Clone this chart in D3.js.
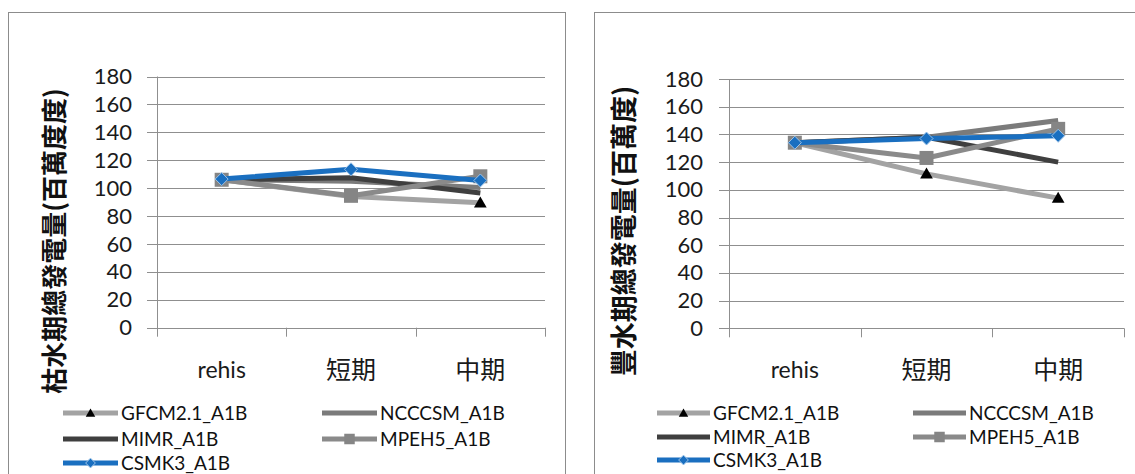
<!DOCTYPE html>
<html>
<head>
<meta charset="utf-8">
<script src="https://cdn.jsdelivr.net/npm/d3@7"></script>
<style>
  html, body { margin: 0; padding: 0; background: #fff; }
  svg { display: block; }
</style>
</head>
<body>
<svg id="chart" width="1135" height="474"></svg>
<script>
// Periods on the x axis
const periods = ["rehis", "短期", "中期"];
// Y axis ticks
const yTicks = [0, 20, 40, 60, 80, 100, 120, 140, 160, 180];
// Model scenario names (legend order)
const models = ["GFCM2.1_A1B", "NCCCSM_A1B", "MIMR_A1B", "MPEH5_A1B", "CSMK3_A1B"];

// Dry-season total generation (百萬度)
const dryGFCM = [106, 94, 89.5];
const dryNCCCSM = [106, 105, 100.5];
const dryMIMR = [106, 107.5, 96.5];
const dryMPEH5 = [106, 94.5, 108.5];
const dryCSMK3 = [106.5, 113.5, 105.5];

// Wet-season total generation (百萬度)
const wetGFCM = [134, 111.5, 94];
const wetNCCCSM = [134, 138, 150];
const wetMIMR = [134, 138, 120];
const wetMPEH5 = [134, 123, 144];
const wetCSMK3 = [134, 137, 139];

const styles = {
  "GFCM2.1_A1B": { color: "#a3a3a3", marker: "triangle" },
  "NCCCSM_A1B": { color: "#7b7b7b", marker: null },
  "MIMR_A1B":   { color: "#3f3f3f", marker: null },
  "MPEH5_A1B":  { color: "#8a8a8a", marker: "square" },
  "CSMK3_A1B":  { color: "#1a6fc0", marker: "diamond" }
};

const svg = d3.select("#chart");
const tickFont = "Lato, 'Open Sans', 'DejaVu Sans', sans-serif";
const cjkFont = "'Noto Sans CJK TC', 'Noto Sans CJK SC', sans-serif";

function drawMarker(g, type, cx, cy, scale, color) {
  const s = scale;
  if (type === "triangle") {
    g.append("path")
      .attr("d", d3.symbol(d3.symbolTriangle, 70 * s * s)())
      .attr("transform", `translate(${cx},${cy + 1})`)
      .attr("fill", "#000");
  } else if (type === "square") {
    g.append("rect")
      .attr("x", cx - 7 * s).attr("y", cy - 7 * s)
      .attr("width", 14 * s).attr("height", 14 * s)
      .attr("fill", "#858585");
  } else if (type === "diamond") {
    const r = 6.5 * s;
    g.append("path")
      .attr("d", `M${cx},${cy - r}L${cx + r},${cy}L${cx},${cy + r}L${cx - r},${cy}Z`)
      .attr("fill", color)
      .attr("stroke", "#9cc3e8").attr("stroke-width", 1);
  }
}

function drawPanel(p) {
  // panel frame
  svg.append("rect")
    .attr("x", p.frame[0] + 0.5).attr("y", p.frame[1] + 0.5)
    .attr("width", p.frame[2]).attr("height", p.frame[3])
    .attr("fill", "#fff").attr("stroke", "#8c8c8c").attr("stroke-width", 1);

  const x = d3.scaleBand().domain(periods).range([p.x0, p.x1]).padding(0);
  const y = d3.scaleLinear().domain([0, 180]).range([p.yb, p.yt]);
  const g = svg.append("g");

  // horizontal gridlines (with short tick stubs to the left of the axis)
  g.selectAll(".grid").data(yTicks).join("line")
    .attr("x1", p.x0 - 10).attr("x2", p.x1)
    .attr("y1", d => Math.round(y(d)) + 0.5).attr("y2", d => Math.round(y(d)) + 0.5)
    .attr("stroke", "#8f8f8f").attr("stroke-width", 1);

  // y axis line
  g.append("line")
    .attr("x1", p.x0 + 0.5).attr("x2", p.x0 + 0.5)
    .attr("y1", y(180)).attr("y2", y(0) + 9)
    .attr("stroke", "#8f8f8f");

  // category boundary ticks below the x axis
  const bounds = periods.map(d => x(d)).concat([x(periods[periods.length - 1]) + x.bandwidth()]);
  g.selectAll(".xt").data(bounds.slice(1)).join("line")
    .attr("x1", d => Math.round(d) + 0.5).attr("x2", d => Math.round(d) + 0.5)
    .attr("y1", y(0)).attr("y2", y(0) + 9)
    .attr("stroke", "#8f8f8f");

  // y tick labels
  const yAxis = d3.axisLeft(y).tickValues(yTicks).tickSize(0).tickPadding(p.labelPad);
  const ya = g.append("g").attr("transform", `translate(${p.x0},0)`).call(yAxis);
  ya.select(".domain").remove();
  ya.selectAll("text")
    .attr("font-family", tickFont).attr("font-size", 22).attr("fill", "#1a1a1a");

  // x category labels
  const xAxis = d3.axisBottom(x).tickSize(0).tickPadding(0);
  const xa = g.append("g").attr("transform", `translate(0,${p.catY})`).call(xAxis);
  xa.select(".domain").remove();
  xa.selectAll("text")
    .attr("font-family", d => d === "rehis" ? tickFont : cjkFont)
    .attr("font-size", d => d === "rehis" ? 23 : 25).attr("fill", "#1a1a1a")
    .attr("dy", d => d === "rehis" ? "0" : "0.05em");

  // y title
  svg.append("text")
    .attr("transform", `translate(${p.titleX},${p.titleY}) rotate(-90)`)
    .attr("text-anchor", "middle")
    .attr("font-family", cjkFont).attr("font-weight", 700)
    .attr("font-size", p.titleSize).attr("fill", "#111")
    .text(p.title);

  // series lines
  const line = d3.line()
    .x((d, i) => x(periods[i]) + x.bandwidth() / 2)
    .y(d => y(d));
  models.forEach(m => {
    const st = styles[m];
    g.append("path")
      .datum(p.data[m])
      .attr("d", line)
      .attr("fill", "none")
      .attr("stroke", st.color).attr("stroke-width", 5)
      .attr("stroke-linejoin", "round");
    if (st.marker) {
      p.data[m].forEach((v, i) => {
        drawMarker(g, st.marker, x(periods[i]) + x.bandwidth() / 2, y(v), 1, st.color);
      });
    }
  });

  // legend
  const lg = svg.append("g");
  models.forEach((m, i) => {
    const st = styles[m];
    const col = i % 2, row = Math.floor(i / 2);
    const lx = p.legX[col], ly = p.legY[row];
    lg.append("line")
      .attr("x1", lx).attr("x2", lx + p.legLen)
      .attr("y1", ly).attr("y2", ly)
      .attr("stroke", st.color).attr("stroke-width", 5);
    if (st.marker) drawMarker(lg, st.marker, lx + p.legLen / 2, ly, 0.75, st.color);
    lg.append("text")
      .attr("x", lx + p.legLen + 3).attr("y", ly)
      .attr("dy", "0.35em")
      .attr("font-family", tickFont).attr("font-size", 19).attr("fill", "#111")
      .text(m);
  });
}

drawPanel({
  frame: [8, 12, 557, 480],
  x0: 157, x1: 545, yt: 76.5, yb: 327.7,
  labelPad: 25, catY: 378,
  title: "枯水期總發電量(百萬度度)", titleX: 64, titleY: 241, titleSize: 26,
  data: { "GFCM2.1_A1B": dryGFCM, "NCCCSM_A1B": dryNCCCSM, "MIMR_A1B": dryMIMR,
          "MPEH5_A1B": dryMPEH5, "CSMK3_A1B": dryCSMK3 },
  legX: [63, 322], legY: [413, 439, 463], legLen: 55
});

drawPanel({
  frame: [594, 12, 560, 480],
  x0: 729, x1: 1124, yt: 79, yb: 328.3,
  labelPad: 26, catY: 378,
  title: "豐水期總發電量(百萬度)", titleX: 634, titleY: 231, titleSize: 27,
  data: { "GFCM2.1_A1B": wetGFCM, "NCCCSM_A1B": wetNCCCSM, "MIMR_A1B": wetMIMR,
          "MPEH5_A1B": wetMPEH5, "CSMK3_A1B": wetCSMK3 },
  legX: [657, 913], legY: [413, 437, 460], legLen: 53
});
</script>
</body>
</html>
